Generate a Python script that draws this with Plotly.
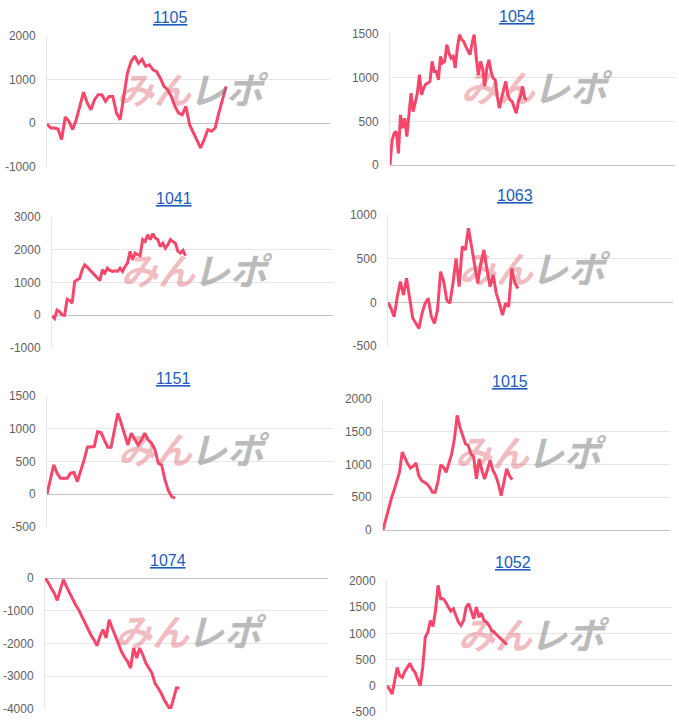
import plotly.graph_objects as go

W, H = 679, 723

TITLES = ["1105", "1054", "1041", "1063", "1151", "1015", "1074", "1052"]

S1105 = [-20, -115, -115, -140, -380, 140, 40, -150, 75, 420, 710, 460, 305, 535, 650, 650,
         500, 610, 610, 230, 75, 610, 1145, 1410, 1540, 1370, 1465, 1300, 1335, 1220, 1180,
         1030, 840, 765, 610, 380, 230, 190, 380, -40, -230, -380, -570, -380, -150, -190,
         -115, 230, 535, 840]
S1054 = [0, 287, 364, 383, 134, 574, 421, 536, 325, 593, 823, 612, 708, 823, 1033, 804, 880,
         926, 938, 957, 1186, 1072, 1072, 976, 1244, 1167, 1186, 1378, 1282, 1225, 1244, 1110,
         1340, 1492, 1435, 1416, 1359, 1301, 1263, 1397, 1492, 1225, 1033, 1186, 1110, 900,
         1110, 1205, 1072, 995, 976, 785, 651, 765, 861, 957, 804, 746, 727, 651, 593, 727,
         785, 900, 765, 746]
S1041 = [-20, -100, 160, 110, 10, 0, 490, 450, 370, 1030, 1080, 1130, 1390, 1540, 1470, 1390,
         1300, 1230, 1150, 1060, 1390, 1290, 1440, 1370, 1340, 1360, 1340, 1440, 1340, 1490,
         1590, 1950, 1690, 1900, 1850, 1820, 2310, 2250, 2460, 2310, 2490, 2360, 2310, 2100,
         2200, 2050, 2150, 2310, 2250, 2200, 1950, 1900, 1980, 1820]
S1063 = [0, -70, -165, 65, 237, 84, 275, 27, -183, -240, -298, -126, -11, 46, -164, -240, -88,
         351, 237, 27, -11, 218, 504, 180, 638, 600, 848, 638, 447, 218, 447, 600, 371, 180,
         313, 103, -11, -145, -11, -50, 390, 218, 160]
S1151 = [0, 219, 448, 321, 244, 244, 244, 321, 331, 193, 346, 524, 718, 718, 728, 957, 942,
         830, 718, 718, 1008, 1237, 1084, 906, 753, 931, 830, 753, 830, 931, 830, 779, 687,
         473, 448, 219, 56, -36, -61]
S1015 = [0, 168, 296, 474, 602, 729, 882, 1188, 1086, 1010, 944, 974, 1025, 831, 755, 729,
         704, 653, 576, 576, 740, 995, 959, 882, 1035, 1163, 1392, 1749, 1571, 1443, 1316,
         1290, 1163, 1112, 780, 1086, 908, 780, 933, 1061, 908, 831, 704, 525, 729, 933, 831,
         770]
S1074 = [0, -132, -305, -458, -682, -356, -51, -254, -458, -662, -814, -967, -1171, -1374,
         -1557, -1730, -1883, -2066, -1781, -1578, -1832, -1272, -1527, -1781, -2036, -2240,
         -2413, -2545, -2749, -2138, -2443, -2138, -2342, -2596, -2749, -2901, -3207, -3359,
         -3512, -3716, -3868, -4021, -3716, -3359, -3359]
S1052 = [0, -64, -160, 64, 351, 192, 160, 275, 351, 428, 320, 256, 128, 0, 351, 927, 1022,
         1246, 1131, 1438, 1917, 1662, 1662, 1598, 1502, 1425, 1470, 1342, 1214, 1150, 1246,
         1502, 1566, 1425, 1278, 1502, 1310, 1387, 1246, 1214, 1150, 1054, 1022, 971, 927,
         882, 831, 786]

SERIES = [S1105, S1054, S1041, S1063, S1151, S1015, S1074, S1052]

TICKS = [
    [-1000, 0, 1000, 2000],
    [0, 500, 1000, 1500],
    [-1000, 0, 1000, 2000, 3000],
    [-500, 0, 500, 1000],
    [-500, 0, 500, 1000, 1500],
    [0, 500, 1000, 1500, 2000],
    [-4000, -3000, -2000, -1000, 0],
    [-500, 0, 500, 1000, 1500, 2000],
]

# layout (pixels): plot boxes (left, right, top, bottom), title centres, share of x width used
BOXES = [(47, 330, 36, 166.5), (390, 675, 34, 165), (52, 333, 217, 348), (388, 673, 215, 346),
         (47, 333, 396, 527), (383, 670, 399, 530), (45, 328, 578, 709), (387, 672, 581, 712)]
TITLE_POS = [(170, 17), (517, 16), (174, 198), (515, 196), (174, 378), (510, 381),
             (168, 560), (513, 562)]
SPAN = [0.633, 0.48, 0.475, 0.456, 0.448, 0.45, 0.475, 0.421]

LINE = "#F4476B"
FONT = "Liberation Sans, Arial, Helvetica, sans-serif"

fig = go.Figure()
layout = {}
annotations = []
for i, (title, vals) in enumerate(zip(TITLES, SERIES)):
    sfx = "" if i == 0 else str(i + 1)
    n = len(vals)
    l, r, t, b = BOXES[i]
    fig.add_trace(go.Scatter(
        x=list(range(n)), y=vals, mode="lines",
        line=dict(color=LINE, width=3), xaxis="x" + sfx, yaxis="y" + sfx,
        showlegend=False, hoverinfo="skip"))
    layout["xaxis" + sfx] = dict(
        domain=[l / W, r / W], range=[0, (n - 1) / SPAN[i]], showgrid=False,
        zeroline=False, showticklabels=False, ticks="", showline=False,
        automargin=False, anchor="y" + sfx, fixedrange=True)
    tv = TICKS[i]
    layout["yaxis" + sfx] = dict(
        domain=[1 - b / H, 1 - t / H], range=[tv[0], tv[-1]],
        tickmode="array", tickvals=tv, ticktext=[str(v) for v in tv],
        showgrid=True, gridcolor="#e6e6e6", gridwidth=1,
        zeroline=True, zerolinecolor="#c2c2c2", zerolinewidth=1,
        showline=True, linecolor="#e6e6e6", linewidth=1, ticks="",
        ticklabelstandoff=8, automargin=False,
        tickfont=dict(family=FONT, size=12, color="#5f5f5f"),
        anchor="x" + sfx, fixedrange=True)
    cx, cy = TITLE_POS[i]
    annotations.append(dict(
        text="<u>" + title + "</u>", x=cx / W, y=1 - cy / H, xref="paper", yref="paper",
        xanchor="center", yanchor="middle", showarrow=False,
        font=dict(family=FONT, size=16, color="#1c5cba")))
    # watermark
    annotations.append(dict(
        text="<b><i>みん</i></b>", x=0.5, y=0.6, xref="x" + sfx + " domain",
        yref="y" + sfx + " domain", xanchor="right", yanchor="middle", xshift=5,
        showarrow=False,
        font=dict(family="Noto Sans CJK JP", size=37, color="rgba(220,80,95,0.40)")))
    annotations.append(dict(
        text="<b><i>レポ</i></b>", x=0.5, y=0.6, xref="x" + sfx + " domain",
        yref="y" + sfx + " domain", xanchor="left", yanchor="middle", xshift=-2,
        showarrow=False,
        font=dict(family="Noto Sans CJK JP", size=37, color="rgba(120,120,120,0.50)")))

fig.update_layout(
    template="none",
    width=W, height=H, margin=dict(l=0, r=0, t=0, b=0, pad=0, autoexpand=False),
    paper_bgcolor="white", plot_bgcolor="white",
    annotations=annotations, **layout)

fig.write_html("out.html")
